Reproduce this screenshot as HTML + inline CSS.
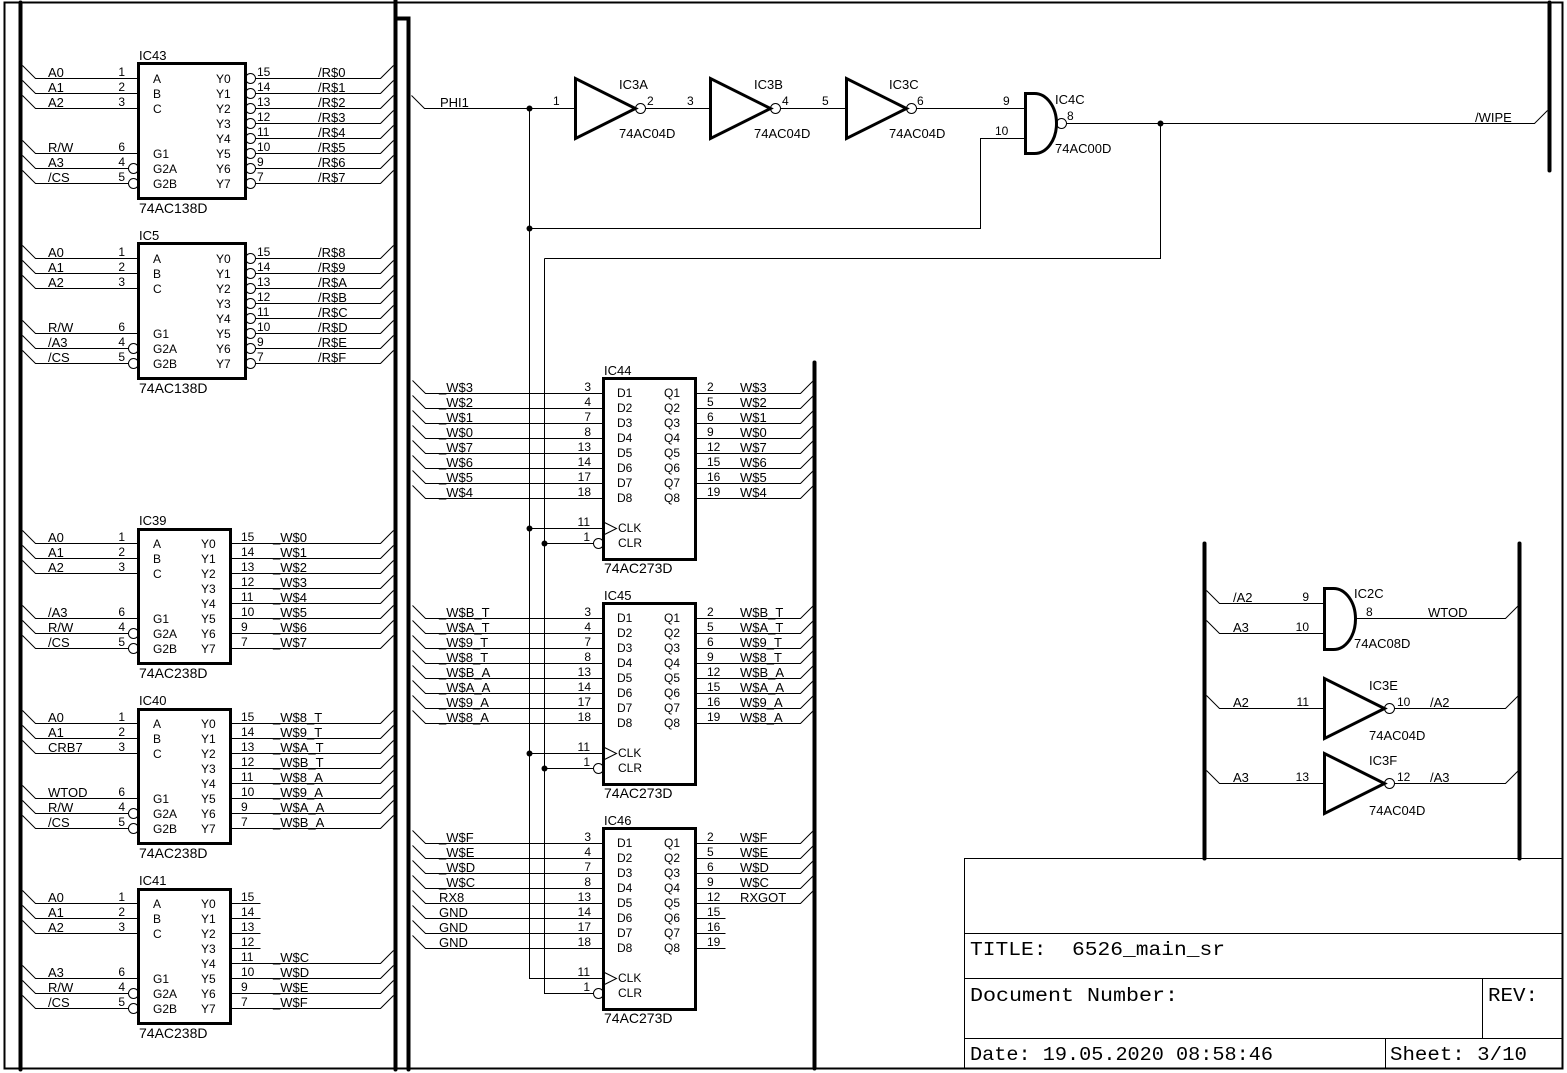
<!DOCTYPE html>
<html><head><meta charset="utf-8">
<style>
html,body{margin:0;padding:0;background:#fff;}
svg{display:block;}
text{font-family:"Liberation Sans",Arial,sans-serif;fill:#000;stroke:none;font-size:13px;}
.i text{font-size:12px}
text.p{font-size:12px}
text.c{font-size:14px}
.e{text-anchor:end}
text.t{font-family:"Liberation Mono",monospace;font-size:19px;white-space:pre}
</style></head><body>
<svg width="1567" height="1073" viewBox="0 0 1567 1073" xmlns="http://www.w3.org/2000/svg">
<g transform="translate(.5,.5)" fill="none" stroke="#000" stroke-width="1">
<!-- frame -->
<path d="M4,2H1562V1068H4Z" stroke-width="2"/>
<!-- buses -->
<g stroke-width="4" stroke-linecap="round">
<path d="M20,2V1069"/>
<path d="M395,0V1069"/>
<path d="M395,18H408V1069"/>
<path d="M814,362V1068"/>
<path d="M1549,2V170"/>
<path d="M1204,543V858"/>
<path d="M1519,543V858"/>
</g>
<!-- title block -->
<path d="M964,1068V858H1562M964,933H1562M964,978H1562M964,1038H1562M1482,978V1038M1385,1038V1068"/>

<!-- IC43 -->
<path d="M22,65L35,78H138M22,80L35,93H138M22,95L35,108H138M22,140L35,153H138M22,155L35,168H128M22,170L35,183H128"/>
<circle cx="133" cy="168" r="5"/><circle cx="133" cy="183" r="5"/>
<rect x="138" y="63" width="107" height="135" stroke-width="3"/>
<path d="M255,78H380L393,65M255,93H380L393,80M255,108H380L393,95M255,123H380L393,110M255,138H380L393,125M255,153H380L393,140M255,168H380L393,155M255,183H380L393,170"/>
<circle cx="250" cy="78" r="5"/><circle cx="250" cy="93" r="5"/><circle cx="250" cy="108" r="5"/><circle cx="250" cy="123" r="5"/><circle cx="250" cy="138" r="5"/><circle cx="250" cy="153" r="5"/><circle cx="250" cy="168" r="5"/><circle cx="250" cy="183" r="5"/>

<!-- IC5 -->
<path d="M22,245L35,258H138M22,260L35,273H138M22,275L35,288H138M22,320L35,333H138M22,335L35,348H128M22,350L35,363H128"/>
<circle cx="133" cy="348" r="5"/><circle cx="133" cy="363" r="5"/>
<rect x="138" y="243" width="107" height="135" stroke-width="3"/>
<path d="M255,258H380L393,245M255,273H380L393,260M255,288H380L393,275M255,303H380L393,290M255,318H380L393,305M255,333H380L393,320M255,348H380L393,335M255,363H380L393,350"/>
<circle cx="250" cy="258" r="5"/><circle cx="250" cy="273" r="5"/><circle cx="250" cy="288" r="5"/><circle cx="250" cy="303" r="5"/><circle cx="250" cy="318" r="5"/><circle cx="250" cy="333" r="5"/><circle cx="250" cy="348" r="5"/><circle cx="250" cy="363" r="5"/>

<!-- IC39 -->
<path d="M22,530L35,543H138M22,545L35,558H138M22,560L35,573H138M22,605L35,618H138M22,620L35,633H128M22,635L35,648H128"/>
<circle cx="133" cy="633" r="5"/><circle cx="133" cy="648" r="5"/>
<rect x="138" y="529" width="92" height="134" stroke-width="3"/>
<path d="M230,543H380L393,530M230,558H380L393,545M230,573H380L393,560M230,588H380L393,575M230,603H380L393,590M230,618H380L393,605M230,633H380L393,620M230,648H380L393,635"/>

<!-- IC40 -->
<path d="M22,710L35,723H138M22,725L35,738H138M22,740L35,753H138M22,785L35,798H138M22,800L35,813H128M22,815L35,828H128"/>
<circle cx="133" cy="813" r="5"/><circle cx="133" cy="828" r="5"/>
<rect x="138" y="709" width="92" height="134" stroke-width="3"/>
<path d="M230,723H380L393,710M230,738H380L393,725M230,753H380L393,740M230,768H380L393,755M230,783H380L393,770M230,798H380L393,785M230,813H380L393,800M230,828H380L393,815"/>

<!-- IC41 -->
<path d="M22,890L35,903H138M22,905L35,918H138M22,920L35,933H138M22,965L35,978H138M22,980L35,993H128M22,995L35,1008H128"/>
<circle cx="133" cy="993" r="5"/><circle cx="133" cy="1008" r="5"/>
<rect x="138" y="889" width="92" height="134" stroke-width="3"/>
<path d="M230,903H260M230,918H260M230,933H260M230,948H260M230,963H380L393,950M230,978H380L393,965M230,993H380L393,980M230,1008H380L393,995"/>

<!-- top logic -->
<path d="M411,95L424,108H575"/>
<path d="M529,108V978H604M544,258V993H593"/>
<path d="M529,228H980V138H1025"/>
<path d="M645,108H710M780,108H846M916,108H1025"/>
<path d="M1066,123H1534L1547,110"/>
<path d="M1160,123V258H544"/>
<path d="M575,78V138L635,108Z M710,78V138L770,108Z M846,78V138L906,108Z" stroke-width="3" stroke-linejoin="miter"/>
<circle cx="640" cy="108" r="5"/><circle cx="775" cy="108" r="5"/><circle cx="911" cy="108" r="5"/>
<path d="M1025,93H1034A22,30 0 0 1 1034,153H1025Z" stroke-width="3"/>
<circle cx="1061" cy="123" r="5"/>

<!-- IC44 -->
<path d="M412,380L425,393H603M412,395L425,408H603M412,410L425,423H603M412,425L425,438H603M412,440L425,453H603M412,455L425,468H603M412,470L425,483H603M412,485L425,498H603"/>
<rect x="603" y="378" width="92" height="181" stroke-width="3"/>
<path d="M695,393H800L813,380M695,408H800L813,395M695,423H800L813,410M695,438H800L813,425M695,453H800L813,440M695,468H800L813,455M695,483H800L813,470M695,498H800L813,485"/>
<path d="M529,528H604M544,543H593"/>
<path d="M604,522L616,528L604,534"/>
<circle cx="598" cy="543" r="5"/>

<!-- IC45 -->
<path d="M412,605L425,618H603M412,620L425,633H603M412,635L425,648H603M412,650L425,663H603M412,665L425,678H603M412,680L425,693H603M412,695L425,708H603M412,710L425,723H603"/>
<rect x="603" y="603" width="92" height="181" stroke-width="3"/>
<path d="M695,618H800L813,605M695,633H800L813,620M695,648H800L813,635M695,663H800L813,650M695,678H800L813,665M695,693H800L813,680M695,708H800L813,695M695,723H800L813,710"/>
<path d="M529,753H604M544,768H593"/>
<path d="M604,747L616,753L604,759"/>
<circle cx="598" cy="768" r="5"/>

<!-- IC46 -->
<path d="M412,830L425,843H603M412,845L425,858H603M412,860L425,873H603M412,875L425,888H603M412,890L425,903H603M412,905L425,918H603M412,920L425,933H603M412,935L425,948H603"/>
<rect x="603" y="828" width="92" height="181" stroke-width="3"/>
<path d="M695,843H800L813,830M695,858H800L813,845M695,873H800L813,860M695,888H800L813,875M695,903H800L813,890M695,918H725M695,933H725M695,948H725"/>
<path d="M604,972L616,978L604,984"/>
<circle cx="598" cy="993" r="5"/>

<!-- right gates -->
<path d="M1206,590L1219,603H1324M1206,620L1219,633H1324M1206,695L1219,708H1324M1206,770L1219,783H1324"/>
<path d="M1355,618H1505L1518,605M1394,708H1505L1518,695M1394,783H1505L1518,770"/>
<path d="M1324,588H1333A22,30.5 0 0 1 1333,649H1324Z" stroke-width="3"/>
<path d="M1324,678V738L1384,708Z M1324,753V813L1384,783Z" stroke-width="3"/>
<circle cx="1389" cy="708" r="5"/><circle cx="1389" cy="783" r="5"/>
</g>

<!-- junctions -->
<g fill="#000">
<circle cx="529.5" cy="108.5" r="3"/><circle cx="529.5" cy="228.5" r="3"/><circle cx="1160.5" cy="123.5" r="3"/>
<circle cx="529.5" cy="528.5" r="3"/><circle cx="544.5" cy="543.5" r="3"/>
<circle cx="529.5" cy="753.5" r="3"/><circle cx="544.5" cy="768.5" r="3"/>
</g>

<!-- ===== TEXT ===== -->
<!-- IC43 -->
<text x="139" y="60">IC43</text><text class="c" x="139" y="213">74AC138D</text>
<text x="48" y="77">A0</text><text x="48" y="92">A1</text><text x="48" y="107">A2</text><text x="48" y="152">R/W</text><text x="48" y="167">A3</text><text x="48" y="182">/CS</text>
<text class="p e" x="125" y="76">1</text><text class="p e" x="125" y="91">2</text><text class="p e" x="125" y="106">3</text><text class="p e" x="125" y="151">6</text><text class="p e" x="125" y="166">4</text><text class="p e" x="125" y="181">5</text>
<g class="i">
<text x="153" y="83">A</text><text x="153" y="98">B</text><text x="153" y="113">C</text><text x="153" y="158">G1</text><text x="153" y="173">G2A</text><text x="153" y="188">G2B</text>
<text x="216" y="83">Y0</text><text x="216" y="98">Y1</text><text x="216" y="113">Y2</text><text x="216" y="128">Y3</text><text x="216" y="143">Y4</text><text x="216" y="158">Y5</text><text x="216" y="173">Y6</text><text x="216" y="188">Y7</text>
</g>
<text class="p" x="257" y="76">15</text><text class="p" x="257" y="91">14</text><text class="p" x="257" y="106">13</text><text class="p" x="257" y="121">12</text><text class="p" x="257" y="136">11</text><text class="p" x="257" y="151">10</text><text class="p" x="257" y="166">9</text><text class="p" x="257" y="181">7</text>
<text x="318" y="77">/R$0</text><text x="318" y="92">/R$1</text><text x="318" y="107">/R$2</text><text x="318" y="122">/R$3</text><text x="318" y="137">/R$4</text><text x="318" y="152">/R$5</text><text x="318" y="167">/R$6</text><text x="318" y="182">/R$7</text>

<!-- IC5 -->
<text x="139" y="240">IC5</text><text class="c" x="139" y="393">74AC138D</text>
<text x="48" y="257">A0</text><text x="48" y="272">A1</text><text x="48" y="287">A2</text><text x="48" y="332">R/W</text><text x="48" y="347">/A3</text><text x="48" y="362">/CS</text>
<text class="p e" x="125" y="256">1</text><text class="p e" x="125" y="271">2</text><text class="p e" x="125" y="286">3</text><text class="p e" x="125" y="331">6</text><text class="p e" x="125" y="346">4</text><text class="p e" x="125" y="361">5</text>
<g class="i">
<text x="153" y="263">A</text><text x="153" y="278">B</text><text x="153" y="293">C</text><text x="153" y="338">G1</text><text x="153" y="353">G2A</text><text x="153" y="368">G2B</text>
<text x="216" y="263">Y0</text><text x="216" y="278">Y1</text><text x="216" y="293">Y2</text><text x="216" y="308">Y3</text><text x="216" y="323">Y4</text><text x="216" y="338">Y5</text><text x="216" y="353">Y6</text><text x="216" y="368">Y7</text>
</g>
<text class="p" x="257" y="256">15</text><text class="p" x="257" y="271">14</text><text class="p" x="257" y="286">13</text><text class="p" x="257" y="301">12</text><text class="p" x="257" y="316">11</text><text class="p" x="257" y="331">10</text><text class="p" x="257" y="346">9</text><text class="p" x="257" y="361">7</text>
<text x="318" y="257">/R$8</text><text x="318" y="272">/R$9</text><text x="318" y="287">/R$A</text><text x="318" y="302">/R$B</text><text x="318" y="317">/R$C</text><text x="318" y="332">/R$D</text><text x="318" y="347">/R$E</text><text x="318" y="362">/R$F</text>

<!-- IC39 -->
<text x="139" y="525">IC39</text><text class="c" x="139" y="678">74AC238D</text>
<text x="48" y="542">A0</text><text x="48" y="557">A1</text><text x="48" y="572">A2</text><text x="48" y="617">/A3</text><text x="48" y="632">R/W</text><text x="48" y="647">/CS</text>
<text class="p e" x="125" y="541">1</text><text class="p e" x="125" y="556">2</text><text class="p e" x="125" y="571">3</text><text class="p e" x="125" y="616">6</text><text class="p e" x="125" y="631">4</text><text class="p e" x="125" y="646">5</text>
<g class="i">
<text x="153" y="548">A</text><text x="153" y="563">B</text><text x="153" y="578">C</text><text x="153" y="623">G1</text><text x="153" y="638">G2A</text><text x="153" y="653">G2B</text>
<text x="201" y="548">Y0</text><text x="201" y="563">Y1</text><text x="201" y="578">Y2</text><text x="201" y="593">Y3</text><text x="201" y="608">Y4</text><text x="201" y="623">Y5</text><text x="201" y="638">Y6</text><text x="201" y="653">Y7</text>
</g>
<text class="p" x="241" y="541">15</text><text class="p" x="241" y="556">14</text><text class="p" x="241" y="571">13</text><text class="p" x="241" y="586">12</text><text class="p" x="241" y="601">11</text><text class="p" x="241" y="616">10</text><text class="p" x="241" y="631">9</text><text class="p" x="241" y="646">7</text>
<text x="273" y="542">_W$0</text><text x="273" y="557">_W$1</text><text x="273" y="572">_W$2</text><text x="273" y="587">_W$3</text><text x="273" y="602">_W$4</text><text x="273" y="617">_W$5</text><text x="273" y="632">_W$6</text><text x="273" y="647">_W$7</text>

<!-- IC40 -->
<text x="139" y="705">IC40</text><text class="c" x="139" y="858">74AC238D</text>
<text x="48" y="722">A0</text><text x="48" y="737">A1</text><text x="48" y="752">CRB7</text><text x="48" y="797">WTOD</text><text x="48" y="812">R/W</text><text x="48" y="827">/CS</text>
<text class="p e" x="125" y="721">1</text><text class="p e" x="125" y="736">2</text><text class="p e" x="125" y="751">3</text><text class="p e" x="125" y="796">6</text><text class="p e" x="125" y="811">4</text><text class="p e" x="125" y="826">5</text>
<g class="i">
<text x="153" y="728">A</text><text x="153" y="743">B</text><text x="153" y="758">C</text><text x="153" y="803">G1</text><text x="153" y="818">G2A</text><text x="153" y="833">G2B</text>
<text x="201" y="728">Y0</text><text x="201" y="743">Y1</text><text x="201" y="758">Y2</text><text x="201" y="773">Y3</text><text x="201" y="788">Y4</text><text x="201" y="803">Y5</text><text x="201" y="818">Y6</text><text x="201" y="833">Y7</text>
</g>
<text class="p" x="241" y="721">15</text><text class="p" x="241" y="736">14</text><text class="p" x="241" y="751">13</text><text class="p" x="241" y="766">12</text><text class="p" x="241" y="781">11</text><text class="p" x="241" y="796">10</text><text class="p" x="241" y="811">9</text><text class="p" x="241" y="826">7</text>
<text x="273" y="722">_W$8_T</text><text x="273" y="737">_W$9_T</text><text x="273" y="752">_W$A_T</text><text x="273" y="767">_W$B_T</text><text x="273" y="782">_W$8_A</text><text x="273" y="797">_W$9_A</text><text x="273" y="812">_W$A_A</text><text x="273" y="827">_W$B_A</text>

<!-- IC41 -->
<text x="139" y="885">IC41</text><text class="c" x="139" y="1038">74AC238D</text>
<text x="48" y="902">A0</text><text x="48" y="917">A1</text><text x="48" y="932">A2</text><text x="48" y="977">A3</text><text x="48" y="992">R/W</text><text x="48" y="1007">/CS</text>
<text class="p e" x="125" y="901">1</text><text class="p e" x="125" y="916">2</text><text class="p e" x="125" y="931">3</text><text class="p e" x="125" y="976">6</text><text class="p e" x="125" y="991">4</text><text class="p e" x="125" y="1006">5</text>
<g class="i">
<text x="153" y="908">A</text><text x="153" y="923">B</text><text x="153" y="938">C</text><text x="153" y="983">G1</text><text x="153" y="998">G2A</text><text x="153" y="1013">G2B</text>
<text x="201" y="908">Y0</text><text x="201" y="923">Y1</text><text x="201" y="938">Y2</text><text x="201" y="953">Y3</text><text x="201" y="968">Y4</text><text x="201" y="983">Y5</text><text x="201" y="998">Y6</text><text x="201" y="1013">Y7</text>
</g>
<text class="p" x="241" y="901">15</text><text class="p" x="241" y="916">14</text><text class="p" x="241" y="931">13</text><text class="p" x="241" y="946">12</text><text class="p" x="241" y="961">11</text><text class="p" x="241" y="976">10</text><text class="p" x="241" y="991">9</text><text class="p" x="241" y="1006">7</text>
<text x="273" y="962">_W$C</text><text x="273" y="977">_W$D</text><text x="273" y="992">_W$E</text><text x="273" y="1007">_W$F</text>

<!-- top logic text -->
<text x="440" y="107">PHI1</text>
<text class="p" x="553" y="105">1</text>
<text x="619" y="89">IC3A</text><text x="619" y="138">74AC04D</text>
<text class="p" x="647" y="105">2</text><text class="p" x="687" y="105">3</text>
<text x="754" y="89">IC3B</text><text x="754" y="138">74AC04D</text>
<text class="p" x="782" y="105">4</text><text class="p" x="822" y="105">5</text>
<text x="889" y="89">IC3C</text><text x="889" y="138">74AC04D</text>
<text class="p" x="917" y="105">6</text><text class="p" x="1003" y="105">9</text><text class="p" x="995" y="135">10</text>
<text x="1055" y="104">IC4C</text><text class="p" x="1067" y="120">8</text><text x="1055" y="153">74AC00D</text>
<text x="1475" y="122">/WIPE</text>

<!-- IC44 text -->
<text x="604" y="375">IC44</text><text class="c" x="604" y="573">74AC273D</text>
<text x="439" y="392">_W$3</text><text x="439" y="407">_W$2</text><text x="439" y="422">_W$1</text><text x="439" y="437">_W$0</text><text x="439" y="452">_W$7</text><text x="439" y="467">_W$6</text><text x="439" y="482">_W$5</text><text x="439" y="497">_W$4</text>
<text class="p e" x="591" y="391">3</text><text class="p e" x="591" y="406">4</text><text class="p e" x="591" y="421">7</text><text class="p e" x="591" y="436">8</text><text class="p e" x="591" y="451">13</text><text class="p e" x="591" y="466">14</text><text class="p e" x="591" y="481">17</text><text class="p e" x="591" y="496">18</text>
<g class="i">
<text x="617" y="397">D1</text><text x="617" y="412">D2</text><text x="617" y="427">D3</text><text x="617" y="442">D4</text><text x="617" y="457">D5</text><text x="617" y="472">D6</text><text x="617" y="487">D7</text><text x="617" y="502">D8</text>
<text x="664" y="397">Q1</text><text x="664" y="412">Q2</text><text x="664" y="427">Q3</text><text x="664" y="442">Q4</text><text x="664" y="457">Q5</text><text x="664" y="472">Q6</text><text x="664" y="487">Q7</text><text x="664" y="502">Q8</text>
<text x="618" y="532">CLK</text><text x="618" y="547">CLR</text>
</g>
<text class="p" x="707" y="391">2</text><text class="p" x="707" y="406">5</text><text class="p" x="707" y="421">6</text><text class="p" x="707" y="436">9</text><text class="p" x="707" y="451">12</text><text class="p" x="707" y="466">15</text><text class="p" x="707" y="481">16</text><text class="p" x="707" y="496">19</text>
<text x="740" y="392">W$3</text><text x="740" y="407">W$2</text><text x="740" y="422">W$1</text><text x="740" y="437">W$0</text><text x="740" y="452">W$7</text><text x="740" y="467">W$6</text><text x="740" y="482">W$5</text><text x="740" y="497">W$4</text>
<text class="p e" x="590" y="526">11</text><text class="p e" x="590" y="541">1</text>

<!-- IC45 text -->
<text x="604" y="600">IC45</text><text class="c" x="604" y="798">74AC273D</text>
<text x="439" y="617">_W$B_T</text><text x="439" y="632">_W$A_T</text><text x="439" y="647">_W$9_T</text><text x="439" y="662">_W$8_T</text><text x="439" y="677">_W$B_A</text><text x="439" y="692">_W$A_A</text><text x="439" y="707">_W$9_A</text><text x="439" y="722">_W$8_A</text>
<text class="p e" x="591" y="616">3</text><text class="p e" x="591" y="631">4</text><text class="p e" x="591" y="646">7</text><text class="p e" x="591" y="661">8</text><text class="p e" x="591" y="676">13</text><text class="p e" x="591" y="691">14</text><text class="p e" x="591" y="706">17</text><text class="p e" x="591" y="721">18</text>
<g class="i">
<text x="617" y="622">D1</text><text x="617" y="637">D2</text><text x="617" y="652">D3</text><text x="617" y="667">D4</text><text x="617" y="682">D5</text><text x="617" y="697">D6</text><text x="617" y="712">D7</text><text x="617" y="727">D8</text>
<text x="664" y="622">Q1</text><text x="664" y="637">Q2</text><text x="664" y="652">Q3</text><text x="664" y="667">Q4</text><text x="664" y="682">Q5</text><text x="664" y="697">Q6</text><text x="664" y="712">Q7</text><text x="664" y="727">Q8</text>
<text x="618" y="757">CLK</text><text x="618" y="772">CLR</text>
</g>
<text class="p" x="707" y="616">2</text><text class="p" x="707" y="631">5</text><text class="p" x="707" y="646">6</text><text class="p" x="707" y="661">9</text><text class="p" x="707" y="676">12</text><text class="p" x="707" y="691">15</text><text class="p" x="707" y="706">16</text><text class="p" x="707" y="721">19</text>
<text x="740" y="617">W$B_T</text><text x="740" y="632">W$A_T</text><text x="740" y="647">W$9_T</text><text x="740" y="662">W$8_T</text><text x="740" y="677">W$B_A</text><text x="740" y="692">W$A_A</text><text x="740" y="707">W$9_A</text><text x="740" y="722">W$8_A</text>
<text class="p e" x="590" y="751">11</text><text class="p e" x="590" y="766">1</text>

<!-- IC46 text -->
<text x="604" y="825">IC46</text><text class="c" x="604" y="1023">74AC273D</text>
<text x="439" y="842">_W$F</text><text x="439" y="857">_W$E</text><text x="439" y="872">_W$D</text><text x="439" y="887">_W$C</text><text x="439" y="902">RX8</text><text x="439" y="917">GND</text><text x="439" y="932">GND</text><text x="439" y="947">GND</text>
<text class="p e" x="591" y="841">3</text><text class="p e" x="591" y="856">4</text><text class="p e" x="591" y="871">7</text><text class="p e" x="591" y="886">8</text><text class="p e" x="591" y="901">13</text><text class="p e" x="591" y="916">14</text><text class="p e" x="591" y="931">17</text><text class="p e" x="591" y="946">18</text>
<g class="i">
<text x="617" y="847">D1</text><text x="617" y="862">D2</text><text x="617" y="877">D3</text><text x="617" y="892">D4</text><text x="617" y="907">D5</text><text x="617" y="922">D6</text><text x="617" y="937">D7</text><text x="617" y="952">D8</text>
<text x="664" y="847">Q1</text><text x="664" y="862">Q2</text><text x="664" y="877">Q3</text><text x="664" y="892">Q4</text><text x="664" y="907">Q5</text><text x="664" y="922">Q6</text><text x="664" y="937">Q7</text><text x="664" y="952">Q8</text>
<text x="618" y="982">CLK</text><text x="618" y="997">CLR</text>
</g>
<text class="p" x="707" y="841">2</text><text class="p" x="707" y="856">5</text><text class="p" x="707" y="871">6</text><text class="p" x="707" y="886">9</text><text class="p" x="707" y="901">12</text><text class="p" x="707" y="916">15</text><text class="p" x="707" y="931">16</text><text class="p" x="707" y="946">19</text>
<text x="740" y="842">W$F</text><text x="740" y="857">W$E</text><text x="740" y="872">W$D</text><text x="740" y="887">W$C</text><text x="740" y="902">RXGOT</text>
<text class="p e" x="590" y="976">11</text><text class="p e" x="590" y="991">1</text>

<!-- right gates text -->
<text x="1233" y="602">/A2</text><text x="1233" y="632">A3</text><text x="1233" y="707">A2</text><text x="1233" y="782">A3</text>
<text class="p e" x="1309" y="601">9</text><text class="p e" x="1309" y="631">10</text><text class="p e" x="1309" y="706">11</text><text class="p e" x="1309" y="781">13</text>
<text x="1354" y="598">IC2C</text><text class="p" x="1366" y="616">8</text><text x="1354" y="648">74AC08D</text><text x="1428" y="617">WTOD</text>
<text x="1369" y="690">IC3E</text><text class="p" x="1397" y="706">10</text><text x="1430" y="707">/A2</text><text x="1369" y="740">74AC04D</text>
<text x="1369" y="765">IC3F</text><text class="p" x="1397" y="781">12</text><text x="1430" y="782">/A3</text><text x="1369" y="815">74AC04D</text>

<!-- title block text -->
<text class="t" x="970" y="955" textLength="255" lengthAdjust="spacingAndGlyphs">TITLE:  6526_main_sr</text>
<text class="t" x="970" y="1001" textLength="208" lengthAdjust="spacingAndGlyphs">Document Number:</text>
<text class="t" x="1488" y="1001" textLength="50" lengthAdjust="spacingAndGlyphs">REV:</text>
<text class="t" x="970" y="1060" textLength="303" lengthAdjust="spacingAndGlyphs">Date: 19.05.2020 08:58:46</text>
<text class="t" x="1390" y="1060" textLength="137" lengthAdjust="spacingAndGlyphs">Sheet: 3/10</text>
</svg>
</body></html>
